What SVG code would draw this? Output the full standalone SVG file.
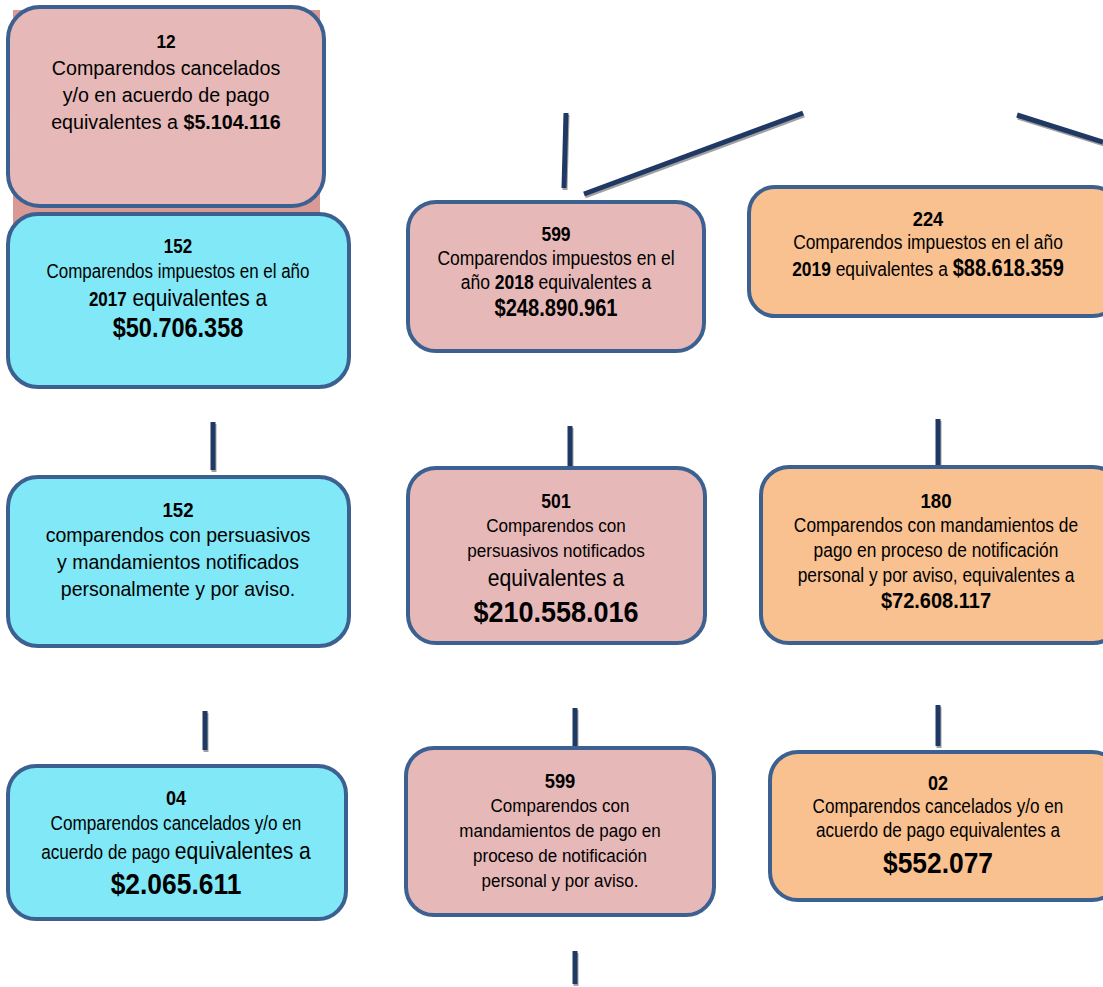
<svg xmlns="http://www.w3.org/2000/svg" width="1103" height="987" viewBox="0 0 1103 987">
<style>
.box{stroke:#3c6090;stroke-width:4}
.pink{fill:#e6b8b8}
.cyan{fill:#80e8f6}
.orange{fill:#f9c090}
text{font-family:"Liberation Sans",Arial,sans-serif;fill:#000;text-anchor:middle}
.b{font-weight:bold}
.ln{stroke:#1f3864;stroke-width:5;fill:none}
.sh{stroke:#a0a0a0;stroke-width:5;fill:none}
</style>
<rect x="13" y="10" width="307" height="218" fill="#d99a96"/>
<g id="connectors">
<g transform="translate(1,2)">
<line class="sh" x1="566" y1="113" x2="564" y2="188"/>
<line class="sh" x1="584" y1="194" x2="803" y2="113"/>
<line class="sh" x1="1017" y1="115" x2="1103" y2="142"/>
<line class="sh" x1="213" y1="422" x2="213" y2="470"/>
<line class="sh" x1="570" y1="426" x2="570" y2="466"/>
<line class="sh" x1="938" y1="419" x2="938" y2="465"/>
<line class="sh" x1="205" y1="711" x2="205" y2="750"/>
<line class="sh" x1="575" y1="708" x2="575" y2="747"/>
<line class="sh" x1="938" y1="705" x2="938" y2="746"/>
<line class="sh" x1="575" y1="951" x2="575" y2="984"/>
</g>
<line class="ln" x1="566" y1="113" x2="564" y2="188"/>
<line class="ln" x1="584" y1="194" x2="803" y2="113"/>
<line class="ln" x1="1017" y1="115" x2="1103" y2="142"/>
<line class="ln" x1="213" y1="422" x2="213" y2="470"/>
<line class="ln" x1="570" y1="426" x2="570" y2="466"/>
<line class="ln" x1="938" y1="419" x2="938" y2="465"/>
<line class="ln" x1="205" y1="711" x2="205" y2="750"/>
<line class="ln" x1="575" y1="708" x2="575" y2="747"/>
<line class="ln" x1="938" y1="705" x2="938" y2="746"/>
<line class="ln" x1="575" y1="951" x2="575" y2="984"/>
</g>
<g id="n12">
<rect class="box pink" x="8" y="7" width="316" height="199" rx="32"/>
<g transform="translate(166 0) scale(0.96 1)">
<text x="0" y="48" class="b" font-size="18">12</text>
<text x="0" y="75" font-size="20.5">Comparendos cancelados</text>
<text x="0" y="102" font-size="20.5">y/o en acuerdo de pago</text>
<text x="0" y="129" font-size="20.5">equivalentes a <tspan class="b">$5.104.116</tspan></text>
</g>
</g>
<g id="n152a">
<rect class="box cyan" x="8" y="214" width="341" height="173" rx="30"/>
<g transform="translate(178 0) scale(0.87 1)">
<text x="0" y="253" class="b" font-size="19.5">152</text>
<text x="0" y="278" font-size="19.5">Comparendos impuestos en el año</text>
<text x="0" y="306"><tspan class="b" font-size="19.5">2017</tspan><tspan font-size="24"> equivalentes a</tspan></text>
<text x="0" y="337" class="b" font-size="27">$50.706.358</text>
</g>
</g>
<g id="n599a">
<rect class="box pink" x="408" y="202" width="296" height="149" rx="28"/>
<g transform="translate(556 0) scale(0.875 1)">
<text x="0" y="241" class="b" font-size="20">599</text>
<text x="0" y="265" font-size="20">Comparendos impuestos en el</text>
<text x="0" y="289" font-size="20">año <tspan class="b">2018</tspan> equivalentes a</text>
<text x="0" y="316" class="b" font-size="23">$248.890.961</text>
</g>
</g>
<g id="n224">
<rect class="box orange" x="749" y="187" width="370" height="129" rx="26"/>
<g transform="translate(928 0) scale(0.87 1)">
<text x="0" y="226" class="b" font-size="21">224</text>
<text x="0" y="249" font-size="20">Comparendos impuestos en el año</text>
<text x="0" y="276" font-size="20"><tspan class="b">2019</tspan> equivalentes a <tspan class="b" font-size="23">$88.618.359</tspan></text>
</g>
</g>
<g id="n152b">
<rect class="box cyan" x="8" y="477" width="341" height="169" rx="30"/>
<g transform="translate(178 0) scale(0.93 1)">
<text x="0" y="517" class="b" font-size="20">152</text>
<text x="0" y="542" font-size="21">comparendos con persuasivos</text>
<text x="0" y="569" font-size="21">y mandamientos notificados</text>
<text x="0" y="596" font-size="21">personalmente y por aviso.</text>
</g>
</g>
<g id="n501">
<rect class="box pink" x="408" y="468" width="297" height="175" rx="28"/>
<g transform="translate(556 0) scale(0.9 1)">
<text x="0" y="508" class="b" font-size="19.5">501</text>
<text x="0" y="532" font-size="19">Comparendos con</text>
<text x="0" y="557" font-size="19">persuasivos notificados</text>
<text x="0" y="586" font-size="23.5">equivalentes a</text>
<text x="0" y="622" class="b" font-size="30">$210.558.016</text>
</g>
</g>
<g id="n180">
<rect class="box orange" x="761" y="467" width="360" height="176" rx="28"/>
<g transform="translate(936 0) scale(0.89 1)">
<text x="0" y="508" class="b" font-size="21">180</text>
<text x="0" y="532" font-size="19.5">Comparendos con mandamientos de</text>
<text x="0" y="557" font-size="19.5">pago en proceso de notificación</text>
<text x="0" y="582" font-size="19.5">personal y por aviso, equivalentes a</text>
<text x="0" y="608" class="b" font-size="22.5">$72.608.117</text>
</g>
</g>
<g id="n04">
<rect class="box cyan" x="8" y="766" width="338" height="153" rx="28"/>
<g transform="translate(176 0) scale(0.88 1)">
<text x="0" y="805" class="b" font-size="20.5">04</text>
<text x="0" y="830" font-size="19.5">Comparendos cancelados y/o en</text>
<text x="0" y="859"><tspan font-size="19.5">acuerdo de pago </tspan><tspan font-size="24">equivalentes a</tspan></text>
<text x="0" y="894" class="b" font-size="30">$2.065.611</text>
</g>
</g>
<g id="n599b">
<rect class="box pink" x="406" y="748" width="308" height="167" rx="28"/>
<g transform="translate(560 0) scale(0.92 1)">
<text x="0" y="788" class="b" font-size="20">599</text>
<text x="0" y="812" font-size="18.5">Comparendos con</text>
<text x="0" y="837" font-size="18.5">mandamientos de pago en</text>
<text x="0" y="862" font-size="18.5">proceso de notificación</text>
<text x="0" y="887" font-size="18.5">personal y por aviso.</text>
</g>
</g>
<g id="n02">
<rect class="box orange" x="770" y="752" width="350" height="148" rx="28"/>
<g transform="translate(938 0) scale(0.88 1)">
<text x="0" y="790" class="b" font-size="20.5">02</text>
<text x="0" y="813" font-size="19.5">Comparendos cancelados y/o en</text>
<text x="0" y="837" font-size="19.5">acuerdo de pago equivalentes a</text>
<text x="0" y="873" class="b" font-size="30">$552.077</text>
</g>
</g>
</svg>
